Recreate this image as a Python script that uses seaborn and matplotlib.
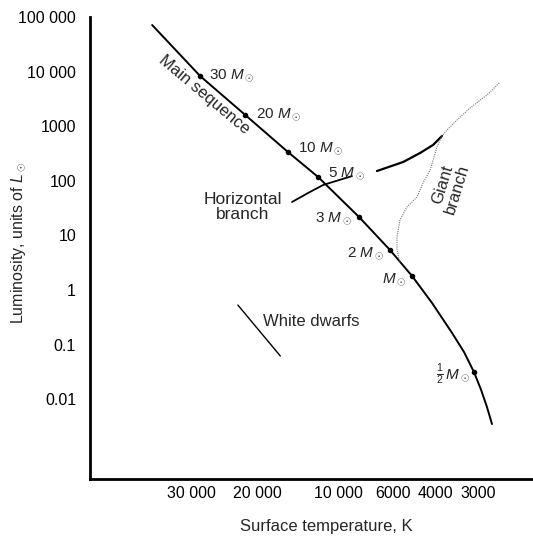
import matplotlib
matplotlib.use("Agg")
import matplotlib.pyplot as plt
import matplotlib.transforms as mtransforms
import seaborn as sns
import pandas as pd

# ---------------- data ----------------
ms_temp = [47300, 31750, 21800, 15300, 11900, 8470, 6550, 5450, 4617, 3909, 3540, 3260, 3070, 2925, 2805]
ms_lum = [71300, 8300, 1600, 337, 117, 21.7, 5.4, 1.8, 0.578, 0.163, 0.0731, 0.0315, 0.01473, 0.00719, 0.0035]

mass_temp = [31750, 21800, 15300, 11900, 8470, 6550, 5450, 3260]
mass_lum = [8300, 1600, 337, 117, 21.7, 5.4, 1.8, 0.0315]
mass_labels = ["30 $M_\\odot$", "20 $M_\\odot$", "10 $M_\\odot$", "5 $M_\\odot$",
               "3 $M_\\odot$", "2 $M_\\odot$", "$M_\\odot$", "$\\frac{1}{2}\\,M_\\odot$"]

hb_temp = [14790, 12940, 11420, 8980]
hb_lum = [40.9, 59.8, 83.8, 122]

giant_temp = [7300, 5870, 5100, 4580, 4250]
giant_lum = [151, 221, 323, 453, 662]

gb_temp = [2640, 2925, 3370, 3750, 4075, 4250, 4430, 4690, 4980, 5230, 5690, 6030, 6180, 6180, 6030]
gb_lum = [6180, 3720, 2150, 1300, 851, 662, 416, 158, 91, 50.5, 33.1, 19.1, 9.35, 5.41, 3.13]

wd_temp = [23200, 16300]
wd_lum = [0.53, 0.0618]

x_ticks = [30000, 20000, 10000, 6000, 4000, 3000]
x_ticklabels = ["30 000", "20 000", "10 000", "6000", "4000", "3000"]
y_ticks = [1e5, 1e4, 1e3, 1e2, 10, 1, 0.1, 0.01]
y_ticklabels = ["100 000", "10 000", "1000", "100", "10", "1", "0.1", "0.01"]

# label offsets (points) relative to the mass dots
label_dx = [6.5, 8, 7, 7, -5, -4, -4, -3]
label_dy = [0, 0, 2, 2, -1, -3, -3, -2]
label_ha = ["left"] * 4 + ["right"] * 4
# horizontal shift (pixels) of each x tick label, as placed in the original
xlabel_shift = [-15, 2, -1, -8, -14, -6]

# ---------------- style ----------------
sns.set_theme(style="white")
plt.rcParams["font.family"] = ["Liberation Sans", "DejaVu Sans"]
plt.rcParams["mathtext.fontset"] = "custom"
plt.rcParams["mathtext.rm"] = "Liberation Sans"
plt.rcParams["mathtext.it"] = "Liberation Sans:italic"
plt.rcParams["mathtext.bf"] = "Liberation Sans:bold"

fig = plt.figure(figsize=(5.33, 5.36), dpi=100)
ax = fig.add_axes([90 / 533, 57 / 536, 443 / 533, 462 / 536])

ms = pd.DataFrame({"T": ms_temp, "L": ms_lum})
sns.lineplot(data=ms, x="T", y="L", sort=False, estimator=None, color="black", lw=1.4, ax=ax)
hb = pd.DataFrame({"T": hb_temp, "L": hb_lum})
sns.lineplot(data=hb, x="T", y="L", sort=False, estimator=None, color="black", lw=1.3, ax=ax)
gi = pd.DataFrame({"T": giant_temp, "L": giant_lum})
sns.lineplot(data=gi, x="T", y="L", sort=False, estimator=None, color="black", lw=1.6, ax=ax)
gb = pd.DataFrame({"T": gb_temp, "L": gb_lum})
sns.lineplot(data=gb, x="T", y="L", sort=False, estimator=None, color="#777777", lw=0.8,
             linestyle=(0, (1, 1)), ax=ax)
wd = pd.DataFrame({"T": wd_temp, "L": wd_lum})
sns.lineplot(data=wd, x="T", y="L", sort=False, estimator=None, color="black", lw=1.0, ax=ax)

md = pd.DataFrame({"T": mass_temp, "L": mass_lum})
sns.scatterplot(data=md, x="T", y="L", color="black", s=16, edgecolor="black", linewidth=0, ax=ax, zorder=5)

for t, l, lab, dx, dy, ha in zip(mass_temp, mass_lum, mass_labels, label_dx, label_dy, label_ha):
    ax.annotate(lab, (t, l), xytext=(dx, dy), textcoords="offset points",
                ha=ha, va="center", fontsize=11)

ax.set_xscale("log")
ax.set_yscale("log")
ax.set_xlim(79300, 1995)
ax.set_ylim(3.45e-4, 1e5)

ax.set_xticks(x_ticks)
ax.set_xticklabels(x_ticklabels)
ax.set_yticks(y_ticks)
ax.set_yticklabels(y_ticklabels)
ax.minorticks_off()
ax.tick_params(axis="both", which="major", direction="in", length=7, width=1,
               labelsize=11.5, color="black", labelcolor="black")
ax.tick_params(axis="y", pad=10)
ax.tick_params(axis="x", pad=5)

for lbl, sh in zip(ax.get_xticklabels(), xlabel_shift):
    lbl.set_transform(lbl.get_transform() + mtransforms.ScaledTranslation(sh / 100, 0, fig.dpi_scale_trans))

for s in ["top", "right"]:
    ax.spines[s].set_visible(False)
for s in ["left", "bottom"]:
    ax.spines[s].set_color("black")
    ax.spines[s].set_linewidth(2)

ax.set_xlabel("Surface temperature, K", fontsize=12)
ax.set_ylabel("Luminosity, units of $L_\\odot$", fontsize=11.5)
ax.xaxis.set_label_coords(0.534, -0.087)
ax.yaxis.set_label_coords(-0.140, 0.511)

ax.text(0.257, 0.831, "Main sequence", transform=ax.transAxes, rotation=-40,
        ha="center", va="center", fontsize=12, rotation_mode="anchor")
ax.text(0.345, 0.589, "Horizontal\nbranch", transform=ax.transAxes,
        ha="center", va="center", fontsize=12.5, linespacing=1.0)
ax.text(0.813, 0.632, "Giant\nbranch", transform=ax.transAxes, rotation=73,
        ha="center", va="center", fontsize=12, linespacing=1.0, rotation_mode="anchor")
ax.text(0.391, 0.340, "White dwarfs", transform=ax.transAxes,
        ha="left", va="center", fontsize=12)

fig.savefig("out.png", dpi=100)
